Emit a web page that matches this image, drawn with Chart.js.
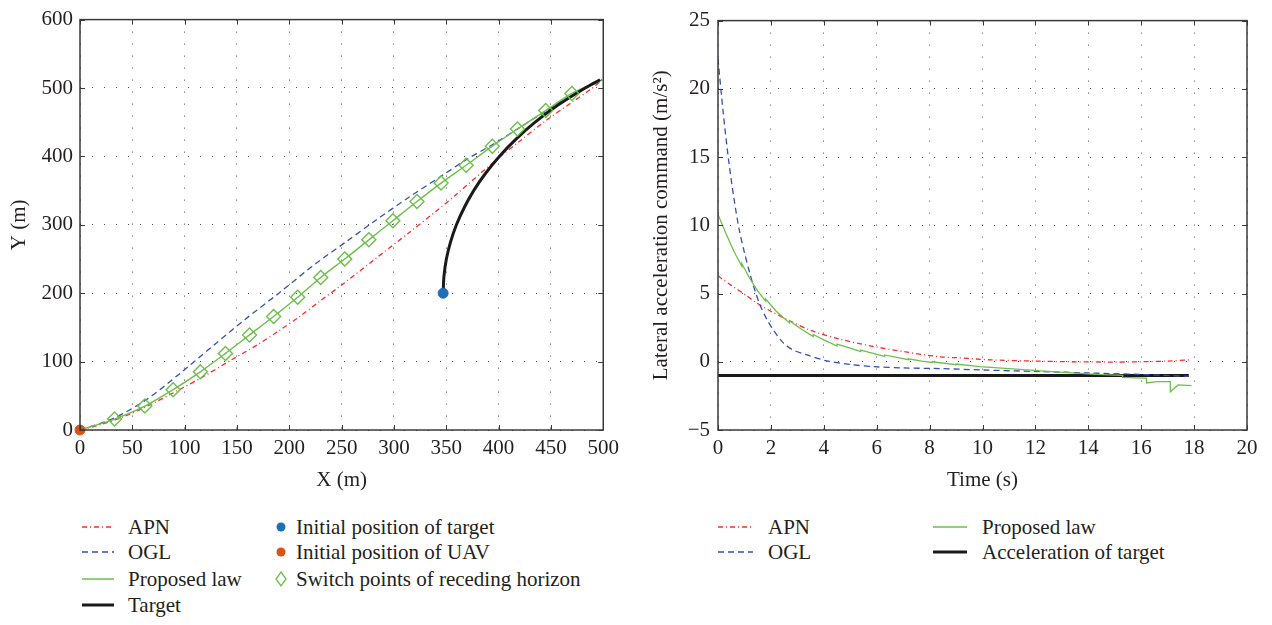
<!DOCTYPE html>
<html>
<head>
<meta charset="utf-8">
<script src="https://cdn.jsdelivr.net/npm/chart.js@4/dist/chart.umd.min.js"></script>
<style>
  body { margin: 0; background: #fff; font-family: "Liberation Serif", serif; color: #231f20; }
  #page { position: relative; width: 1272px; height: 625px; overflow: hidden; }
  .box { position: absolute; top: 0; height: 500px; }
  .item { position: absolute; height: 26px; white-space: nowrap; font-size: 21px; line-height: 26px; }
  .item svg { position: absolute; top: 0; left: 0; }
  .item span { position: absolute; top: 0; }
</style>
</head>
<body>
<div id="page">
  <div class="box" style="left:0;width:625px"><canvas id="chartPath"></canvas></div>
  <div class="box" style="left:640px;width:632px"><canvas id="chartAcc"></canvas></div>

  <!-- legend, left -->
  <div class="item" style="left:80px;top:514px"><svg width="36" height="26"><line x1="2" y1="13" x2="34" y2="13" stroke="#ff2a2a" stroke-width="1.3" stroke-dasharray="5,3,1,3"/></svg><span style="left:48px">APN</span></div>
  <div class="item" style="left:80px;top:539px"><svg width="36" height="26"><line x1="2" y1="13" x2="34" y2="13" stroke="#3350b5" stroke-width="1.3" stroke-dasharray="6,4"/></svg><span style="left:48px">OGL</span></div>
  <div class="item" style="left:80px;top:566px"><svg width="36" height="26"><line x1="2" y1="13" x2="34" y2="13" stroke="#6cc04a" stroke-width="1.5"/></svg><span style="left:48px">Proposed law</span></div>
  <div class="item" style="left:80px;top:592px"><svg width="36" height="26"><line x1="2" y1="13" x2="34" y2="13" stroke="#1a1a1a" stroke-width="3"/></svg><span style="left:48px">Target</span></div>
  <div class="item" style="left:274px;top:514px"><svg width="16" height="26"><circle cx="7" cy="13" r="4.5" fill="#1f6fb8"/></svg><span style="left:22px">Initial position of target</span></div>
  <div class="item" style="left:274px;top:539px"><svg width="16" height="26"><circle cx="7" cy="13" r="4.5" fill="#d95319"/></svg><span style="left:22px">Initial position of UAV</span></div>
  <div class="item" style="left:274px;top:566px"><svg width="16" height="26"><polygon points="7,6 12,13 7,20 2,13" fill="none" stroke="#6cc04a" stroke-width="1.3"/></svg><span style="left:22px">Switch points of receding horizon</span></div>

  <!-- legend, right -->
  <div class="item" style="left:716px;top:514px"><svg width="40" height="26"><line x1="2" y1="13" x2="37" y2="13" stroke="#ff2a2a" stroke-width="1.3" stroke-dasharray="5,3,1,3"/></svg><span style="left:52px">APN</span></div>
  <div class="item" style="left:716px;top:539px"><svg width="40" height="26"><line x1="2" y1="13" x2="37" y2="13" stroke="#3350b5" stroke-width="1.3" stroke-dasharray="6,4"/></svg><span style="left:52px">OGL</span></div>
  <div class="item" style="left:931px;top:514px"><svg width="40" height="26"><line x1="2" y1="13" x2="36" y2="13" stroke="#6cc04a" stroke-width="1.5"/></svg><span style="left:51px">Proposed law</span></div>
  <div class="item" style="left:931px;top:539px"><svg width="40" height="26"><line x1="2" y1="13" x2="36" y2="13" stroke="#1a1a1a" stroke-width="3"/></svg><span style="left:51px">Acceleration of target</span></div>
</div>

<script>
// ---- left chart: trajectories (m)
var apnX = [0, 20, 41, 63, 95, 120, 143, 170, 190, 210, 228, 250, 282, 314, 342, 360, 397, 420, 444, 470, 488, 499];
var apnY = [0, 8, 19, 34, 59, 80, 101, 125, 145, 166, 187, 212, 250, 288, 322, 345, 394, 422, 451, 479, 498, 512];

var oglX = [0, 32, 63, 95, 127, 158, 190, 225, 255, 282, 315, 345, 370, 396, 420, 444, 470, 499];
var oglY = [0, 17, 44, 82, 123, 162, 200, 243, 276, 306, 341, 371, 396, 419, 442, 465, 489, 512];

var switchX = [33, 62, 89, 115, 139, 162, 185, 208, 230, 253, 276, 299, 322, 345, 369, 394, 418, 445, 470];
var switchY = [16, 35, 59, 85, 112, 139, 166, 194, 223, 250, 278, 306, 334, 361, 387, 415, 440, 467, 492];
var lawEnd = [499, 512];

var targetX = [347, 347.8, 350.1, 354.1, 359.7, 367.1, 376.2, 387.4, 400.7, 416.4, 434.9, 456.7, 482.7, 497];
var targetY = [200, 225, 250, 275, 300, 325, 350, 375, 400, 425, 450, 475, 500, 512];

var targetStart = [347, 200];
var uavStart = [0, 0];

// ---- right chart: lateral acceleration command (m/s^2) vs time (s)
var apnT = [0, 0.5, 1, 1.47, 2, 2.72, 3.5, 4.6, 5.8, 7.1, 8.4, 9.1, 10.3, 12, 13.4, 15, 16, 17, 17.9];
var apnA = [6.3, 5.6, 4.95, 4.3, 3.7, 3.0, 2.3, 1.66, 1.15, 0.72, 0.36, 0.29, 0.14, 0.05, 0.0, -0.02, 0.0, 0.05, 0.15];

var oglT = [0, 0.2, 0.4, 0.6, 0.8, 1.0, 1.2, 1.4, 1.6, 1.85, 2.1, 2.46, 2.8, 3.37, 4.1, 5, 5.9, 7, 8.4, 10, 12.2, 14, 16, 17.8];
var oglA = [22.2, 18.2, 14.8, 12.0, 9.7, 8.0, 6.5, 5.2, 4.1, 3.1, 2.3, 1.4, 0.9, 0.5, 0.07, -0.2, -0.36, -0.45, -0.5, -0.6, -0.72, -0.82, -0.93, -1.07];

var lawT = [0, 0.3, 0.6, 0.9, 0.9, 1.2, 1.5, 1.8, 1.8, 2.2, 2.7, 2.7, 3.1, 3.6, 3.6, 4.0, 4.5, 4.5, 5.0, 5.4, 5.4, 5.9, 6.3, 6.3,
            6.8, 7.2, 7.2, 7.7, 8.1, 8.1, 9.0, 9.0, 9.9, 11.0, 12.2, 13.2, 14.3, 15.3, 15.3, 15.8, 16.2, 16.2, 16.6, 17.1, 17.1, 17.4, 17.9];
var lawA = [10.8, 9.4, 8.1, 7.0, 7.2, 6.1, 5.2, 4.45, 4.6, 3.7, 2.85, 3.0, 2.45, 1.85, 2.0, 1.6, 1.15, 1.3, 1.0, 0.75, 0.85, 0.6, 0.4, 0.5,
            0.3, 0.15, 0.22, 0.05, -0.05, 0.0, -0.22, -0.17, -0.35, -0.5, -0.67, -0.8, -0.92, -1.0, -1.15, -1.18, -1.2, -1.55, -1.45, -1.45, -2.2, -1.7, -1.75];

var tgtAccT = [0, 17.8];
var tgtAccA = [-1, -1];

function pts(xs, ys) {
    return xs.map(function(x, i) { return { x: x, y: ys[i] }; });
}

Chart.defaults.font.family = '"Liberation Serif", serif';
Chart.defaults.font.size = 21;
Chart.defaults.color = '#231f20';

// box round the plot area with inward ticks, like the original figure
var frame = {
    id: 'frame',
    afterDraw: function(chart) {
        var a = chart.chartArea, ctx = chart.ctx;
        var sx = chart.scales.x, sy = chart.scales.y;
        ctx.save();
        ctx.strokeStyle = '#3a3a3a';
        ctx.lineWidth = 1;
        ctx.beginPath();
        sx.ticks.forEach(function(t) {
            var p = Math.round(sx.getPixelForValue(t.value)) + 0.5;
            ctx.moveTo(p, a.bottom); ctx.lineTo(p, a.bottom - 5);
            ctx.moveTo(p, a.top); ctx.lineTo(p, a.top + 5);
        });
        sy.ticks.forEach(function(t) {
            var p = Math.round(sy.getPixelForValue(t.value)) + 0.5;
            ctx.moveTo(a.left, p); ctx.lineTo(a.left + 5, p);
            ctx.moveTo(a.right, p); ctx.lineTo(a.right - 5, p);
        });
        ctx.stroke();
        ctx.lineWidth = 1.5;
        ctx.strokeRect(a.left, a.top, a.right - a.left, a.bottom - a.top);
        ctx.restore();
    }
};

function gridOpts() {
    return { color: '#4a4a4a', lineWidth: 1, drawTicks: false };
}

var ctx = document.getElementById('chartPath');
var chartPath = new Chart(ctx, {
    type: 'scatter',
    data: {
        datasets: [
            { label: 'APN', data: pts(apnX, apnY), showLine: true, pointRadius: 0, borderColor: '#ff2a2a', borderWidth: 1.3, borderDash: [5, 3, 1, 3], tension: 0.3, order: 5 },
            { label: 'OGL', data: pts(oglX, oglY), showLine: true, pointRadius: 0, borderColor: '#3350b5', borderWidth: 1.3, borderDash: [6, 4], tension: 0.3, order: 4 },
            { label: 'Proposed law', data: pts([0].concat(switchX, [lawEnd[0]]), [0].concat(switchY, [lawEnd[1]])), showLine: true, pointRadius: 0, borderColor: '#6cc04a', borderWidth: 1.4, tension: 0.3, order: 3 },
            { label: 'Target', data: pts(targetX, targetY), showLine: true, pointRadius: 0, borderColor: '#1a1a1a', borderWidth: 3, tension: 0.3, order: 2 },
            { label: 'Switch points of receding horizon', data: pts(switchX, switchY), pointStyle: 'rectRot', pointRadius: 7, borderColor: '#6cc04a', backgroundColor: 'rgba(0,0,0,0)', pointBorderWidth: 1.4, order: 1 },
            { label: 'Initial position of target', data: [{ x: targetStart[0], y: targetStart[1] }], pointRadius: 5, backgroundColor: '#1f6fb8', borderColor: '#1f6fb8', clip: false, order: 0 },
            { label: 'Initial position of UAV', data: [{ x: uavStart[0], y: uavStart[1] }], pointRadius: 5, backgroundColor: '#d95319', borderColor: '#d95319', clip: false, order: 0 }
        ]
    },
    options: {
        animation: false,
        responsive: true,
        maintainAspectRatio: false,
        layout: { padding: { top: 15, right: 19, left: 0, bottom: 0 } },
        plugins: { legend: { display: false }, tooltip: { enabled: false } },
        scales: {
            x: {
                type: 'linear', min: 0, max: 500,
                ticks: { stepSize: 50, padding: 6 },
                grid: gridOpts(),
                border: { display: false, dash: [1, 11] },
                title: { display: true, text: 'X (m)', padding: { top: 0, bottom: 7 } },
                afterFit: function(s) { s.height = 70; }
            },
            y: {
                min: 0, max: 600,
                ticks: { stepSize: 100, padding: 7 },
                grid: gridOpts(),
                border: { display: false, dash: [1, 11] },
                title: { display: true, text: 'Y (m)', padding: { top: 7, bottom: 0 } },
                afterFit: function(s) { s.width = 80; }
            }
        }
    },
    plugins: [frame]
});

var ctx2 = document.getElementById('chartAcc');
var chartAcc = new Chart(ctx2, {
    type: 'scatter',
    data: {
        datasets: [
            { label: 'APN', data: pts(apnT, apnA), showLine: true, pointRadius: 0, borderColor: '#ff2a2a', borderWidth: 1.3, borderDash: [5, 3, 1, 3], tension: 0.3, order: 2 },
            { label: 'OGL', data: pts(oglT, oglA), showLine: true, pointRadius: 0, borderColor: '#3350b5', borderWidth: 1.3, borderDash: [6, 4], tension: 0.3, order: 1 },
            { label: 'Proposed law', data: pts(lawT, lawA), showLine: true, pointRadius: 0, borderColor: '#6cc04a', borderWidth: 1.3, tension: 0, order: 0 },
            { label: 'Acceleration of target', data: pts(tgtAccT, tgtAccA), showLine: true, pointRadius: 0, borderColor: '#1a1a1a', borderWidth: 3, order: 3 }
        ]
    },
    options: {
        animation: false,
        responsive: true,
        maintainAspectRatio: false,
        layout: { padding: { top: 12, right: 25, left: 0, bottom: 0 } },
        plugins: { legend: { display: false }, tooltip: { enabled: false } },
        scales: {
            x: {
                type: 'linear', min: 0, max: 20,
                ticks: { stepSize: 2, padding: 6 },
                grid: gridOpts(),
                border: { display: false, dash: [1, 11] },
                title: { display: true, text: 'Time (s)', padding: { top: 0, bottom: 7 } },
                afterFit: function(s) { s.height = 70; }
            },
            y: {
                min: -5, max: 25,
                ticks: {
                    stepSize: 5, padding: 8,
                    callback: function(v) { return String(v).replace('-', '\u2212'); }
                },
                grid: gridOpts(),
                border: { display: false, dash: [1, 11] },
                title: { display: true, text: 'Lateral acceleration command (m/s\u00b2)', padding: { top: 9, bottom: 0 } },
                afterFit: function(s) { s.width = 78; }
            }
        }
    },
    plugins: [frame]
});
</script>
</body>
</html>
